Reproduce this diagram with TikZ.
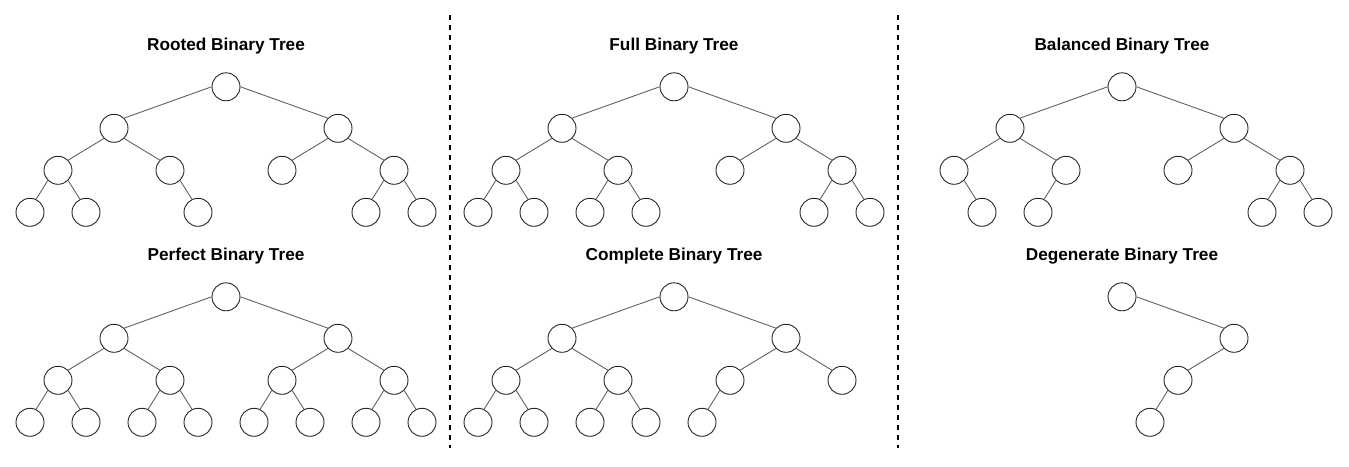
\documentclass[tikz,border=0pt]{standalone}
\usepackage{fontspec}
\setmainfont{Liberation Sans}
\tikzset{
  bt/.style={circle, draw=black!85, line width=0.9pt, minimum size=28pt, inner sep=0pt, fill=white},
  edge/.style={draw=black!62, line width=0.9pt},
  ttl/.style={font=\fontsize{17.2}{20}\selectfont\bfseries, inner sep=0pt, anchor=base},
  sep/.style={draw=black, line width=2pt, dash pattern=on 5pt off 5pt}
}
\def\xs{{0,226,114,338,58,170,282,394,30,86,142,198,254,310,366,422}}
\def\ys{{0,0,41.5,41.5,83.5,83.5,83.5,83.5,125.5,125.5,125.5,125.5,125.5,125.5,125.5,125.5}}
\def\pa{{0,0,180,0,225,-45,225,-45,225,-45,225,-45,225,-45,225,-45}}
\def\ca{{0,0,45,135,45,135,45,135,65,115,65,115,65,115,65,115}}
% #1 prefix, #2 x shift, #3 y shift, #4 node indices, #5 child indices (edges)
\newcommand\drawbintree[5]{%
  \foreach \i in {#4} {
    \pgfmathsetmacro\xx{\xs[\i]+#2}
    \pgfmathsetmacro\yy{\ys[\i]+#3}
    \node[bt] (#1\i) at (\xx,\yy) {};
  }
  \foreach \i in {#5} {
    \pgfmathtruncatemacro\pp{int(\i/2)}
    \pgfmathtruncatemacro\aa{\pa[\i]}
    \pgfmathtruncatemacro\bb{\ca[\i]}
    \draw[edge] (#1\pp.\aa) -- (#1\i.\bb);
  }
}
\begin{document}
\begin{tikzpicture}[x=1pt,y=-1pt]
\useasboundingbox (0,0) rectangle (1349,466);
% separators
\draw[sep] (450,15) -- (450,448);
\draw[sep] (898,15) -- (898,448);
% titles
\node[ttl] (t1) at (226,50.7) {Rooted Binary Tree};
\node[ttl] (t2) at (674,50.7) {Full Binary Tree};
\node[ttl] (t3) at (1122,50.7) {Balanced Binary Tree};
\node[ttl] (t4) at (226,260.7) {Perfect Binary Tree};
\node[ttl] (t5) at (674,260.7) {Complete Binary Tree};
\node[ttl] (t6) at (1122,260.7) {Degenerate Binary Tree};
% trees
\drawbintree{r}{0}{86.8}{1,2,3,4,5,6,7,8,9,11,14,15}{2,3,4,5,6,7,8,9,11,14,15}
\drawbintree{f}{448}{86.8}{1,2,3,4,5,6,7,8,9,10,11,14,15}{2,3,4,5,6,7,8,9,10,11,14,15}
\drawbintree{b}{896}{86.8}{1,2,3,4,5,6,7,9,10,14,15}{2,3,4,5,6,7,9,10,14,15}
\drawbintree{p}{0}{296.8}{1,2,3,4,5,6,7,8,9,10,11,12,13,14,15}{2,3,4,5,6,7,8,9,10,11,12,13,14,15}
\drawbintree{c}{448}{296.8}{1,2,3,4,5,6,7,8,9,10,11,12}{2,3,4,5,6,7,8,9,10,11,12}
\drawbintree{d}{896}{296.8}{1,3,6,12}{3,6,12}
\end{tikzpicture}
\end{document}
